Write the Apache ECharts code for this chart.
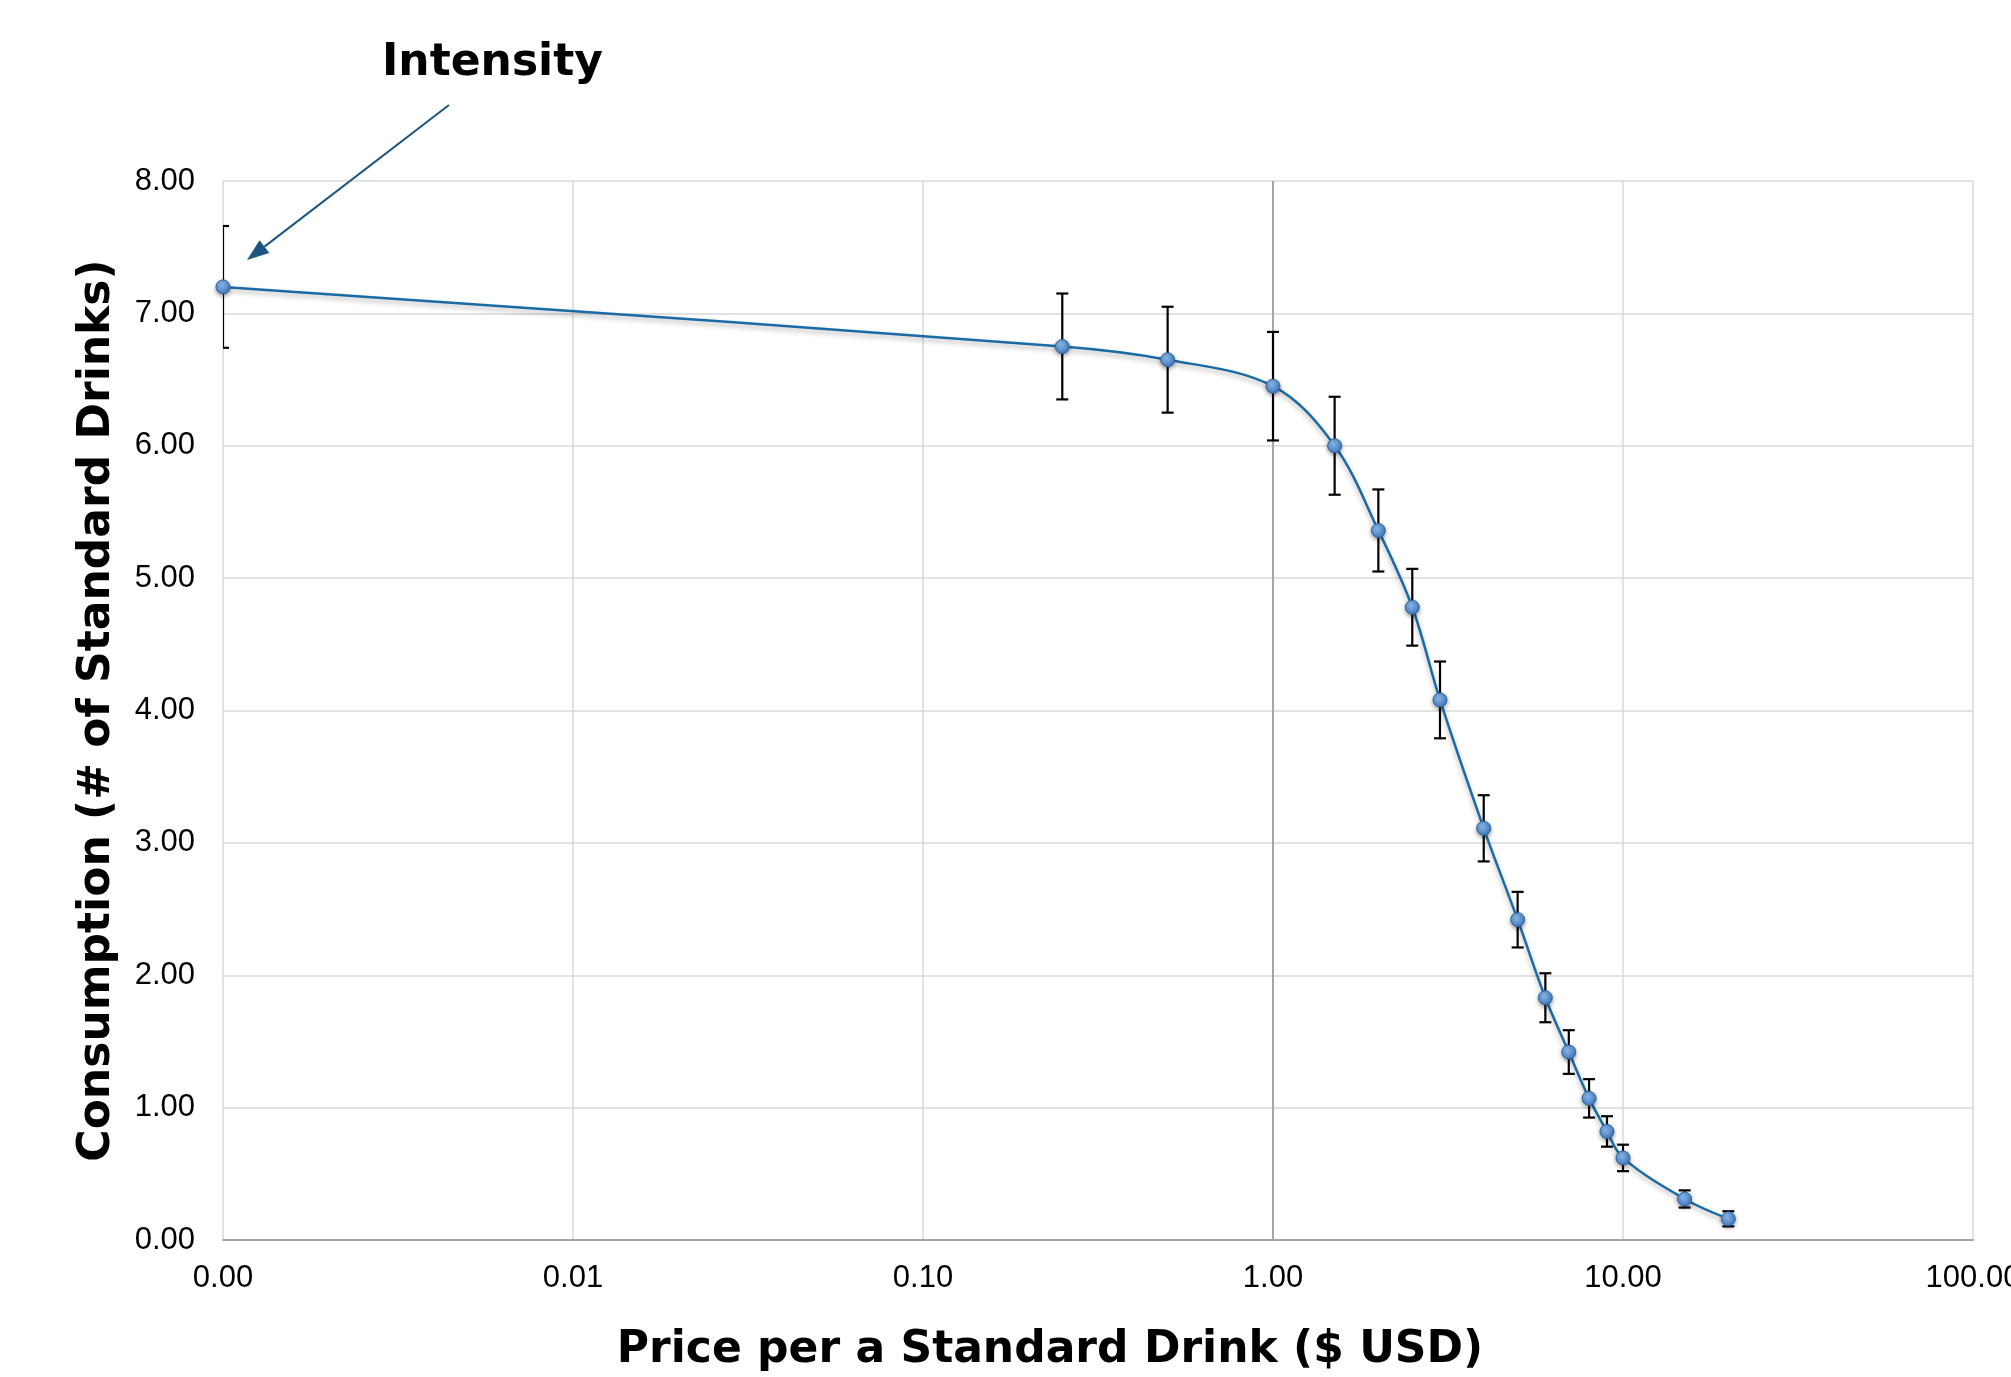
<!DOCTYPE html>
<html><head><meta charset="utf-8">
<script src="https://cdn.jsdelivr.net/npm/echarts@6/dist/echarts.min.js"></script>
<style>html,body{margin:0;padding:0;background:#fff}#chart{width:2011px;height:1377px}</style>
</head><body><div id="chart"></div>
<script>
// ---- data ----
const prices      = [0.001, 0.25, 0.5, 1, 1.5, 2, 2.5, 3, 4, 5, 6, 7, 8, 9, 10, 15, 20];
const consumption = [7.20, 6.75, 6.65, 6.45, 6.00, 5.36, 4.78, 4.08, 3.11, 2.42, 1.83, 1.42, 1.07, 0.82, 0.62, 0.31, 0.16];
const errorHalf   = [0.46, 0.40, 0.40, 0.41, 0.37, 0.31, 0.29, 0.29, 0.25, 0.21, 0.185, 0.165, 0.145, 0.115, 0.10, 0.065, 0.057];
const crossAt = 1; // value axis crosses the price axis at 1.00
const yRange = [0, 8];
const xTitle = 'Price per a Standard Drink ($ USD)';
const yTitle = 'Consumption (# of Standard Drinks)';
const annotationText = 'Intensity';

const lineData = prices.map((p, i) => [p, consumption[i]]);
const errData = prices.map((p, i) => [p, consumption[i] - errorHalf[i], consumption[i] + errorHalf[i]]);

const chart = echarts.init(document.getElementById('chart'), null, {renderer: 'canvas'});

const titleFont = {fontFamily: 'DejaVu Sans', fontWeight: 'bold', fontSize: 44, color: '#000'};

// arrow geometry (annotation, pixel space)
const aStart = [449, 105], aTip = [247, 260];
const dx = aTip[0] - aStart[0], dy = aTip[1] - aStart[1];
const len = Math.sqrt(dx * dx + dy * dy);
const ux = dx / len, uy = dy / len;
const headLen = 22, headHalf = 8;
const base = [aTip[0] - ux * headLen, aTip[1] - uy * headLen];
const nx = -uy, ny = ux;

const option = {
  animation: false,
  backgroundColor: '#fff',
  grid: {left: 223, right: 38, top: 181, bottom: 137, outerBoundsMode: 'none', containLabel: false},
  xAxis: {
    type: 'log', logBase: 10, min: 0.001, max: 100,
    name: xTitle, nameLocation: 'middle', nameGap: 89,
    nameTextStyle: Object.assign({}, titleFont, {padding: [0, 96, 0, 0]}),
    axisLine: {show: true, onZero: false, lineStyle: {color: '#a6a6a6', width: 2}},
    axisTick: {show: false},
    axisLabel: {fontFamily: 'Liberation Sans', fontSize: 31, color: '#000', margin: 23,
      formatter: v => Number(v).toFixed(2), showMinLabel: true, showMaxLabel: true},
    splitLine: {show: true, lineStyle: {color: '#d9d9d9', width: 1.5}}
  },
  yAxis: {
    type: 'value', min: yRange[0], max: yRange[1], interval: 1,
    name: yTitle, nameLocation: 'middle', nameGap: 103, nameRotate: 90,
    nameTextStyle: titleFont,
    axisLine: {show: false}, axisTick: {show: false},
    axisLabel: {fontFamily: 'Liberation Sans', fontSize: 31, color: '#000', margin: 28,
      formatter: v => Number(v).toFixed(2)},
    splitLine: {show: true, lineStyle: {color: '#d9d9d9', width: 1.5}}
  },
  series: [
    {
      type: 'custom', name: 'axisCross', data: [[crossAt, yRange[0], yRange[1]]], z: 1, silent: true,
      encode: {x: 0, y: [1, 2]},
      renderItem: function (params, api) {
        const a = api.coord([api.value(0), api.value(1)]);
        const b = api.coord([api.value(0), api.value(2)]);
        return {type: 'line', shape: {x1: a[0], y1: a[1], x2: b[0], y2: b[1]},
          style: {stroke: '#a6a6a6', lineWidth: 2}};
      }
    },
    {
      type: 'custom', name: 'error', data: errData, clip: true, z: 2, silent: true,
      encode: {x: 0, y: [1, 2]},
      renderItem: function (params, api) {
        const x = api.value(0);
        const pLo = api.coord([x, api.value(1)]);
        const pHi = api.coord([x, api.value(2)]);
        const w = 6;
        const style = {stroke: '#000', lineWidth: 2.2, fill: null};
        return {type: 'group', children: [
          {type: 'line', shape: {x1: pLo[0], y1: pLo[1], x2: pHi[0], y2: pHi[1]}, style: style},
          {type: 'line', shape: {x1: pHi[0] - w, y1: pHi[1], x2: pHi[0] + w, y2: pHi[1]}, style: style},
          {type: 'line', shape: {x1: pLo[0] - w, y1: pLo[1], x2: pLo[0] + w, y2: pLo[1]}, style: style}
        ]};
      }
    },
    {
      type: 'line', name: 'consumption', data: lineData, z: 3,
      smooth: 0.35, symbol: 'circle', symbolSize: 14,
      lineStyle: {color: '#1a6aa6', width: 2.5, shadowColor: 'rgba(0,0,0,0.3)', shadowBlur: 5, shadowOffsetY: 3},
      itemStyle: {
        color: new echarts.graphic.RadialGradient(0.4, 0.35, 0.7, [
          {offset: 0, color: '#8cbaea'}, {offset: 1, color: '#3a74bb'}]),
        borderColor: '#2f66a3', borderWidth: 1,
        shadowColor: 'rgba(0,0,0,0.35)', shadowBlur: 4, shadowOffsetY: 2
      },
      emphasis: {disabled: true}
    }
  ],
  graphic: [
    {type: 'text', left: 382, top: 42, z: 10,
      style: {text: annotationText, font: 'bold 44px "DejaVu Sans"', fill: '#000'}},
    {type: 'line', z: 10, shape: {x1: aStart[0], y1: aStart[1], x2: base[0], y2: base[1]},
      style: {stroke: '#1b5580', lineWidth: 2}},
    {type: 'polygon', z: 10, shape: {points: [
      [aTip[0], aTip[1]],
      [base[0] + nx * headHalf, base[1] + ny * headHalf],
      [base[0] - nx * headHalf, base[1] - ny * headHalf]]},
      style: {fill: '#1b5580'}}
  ]
};
chart.setOption(option);
</script>
</body></html>
